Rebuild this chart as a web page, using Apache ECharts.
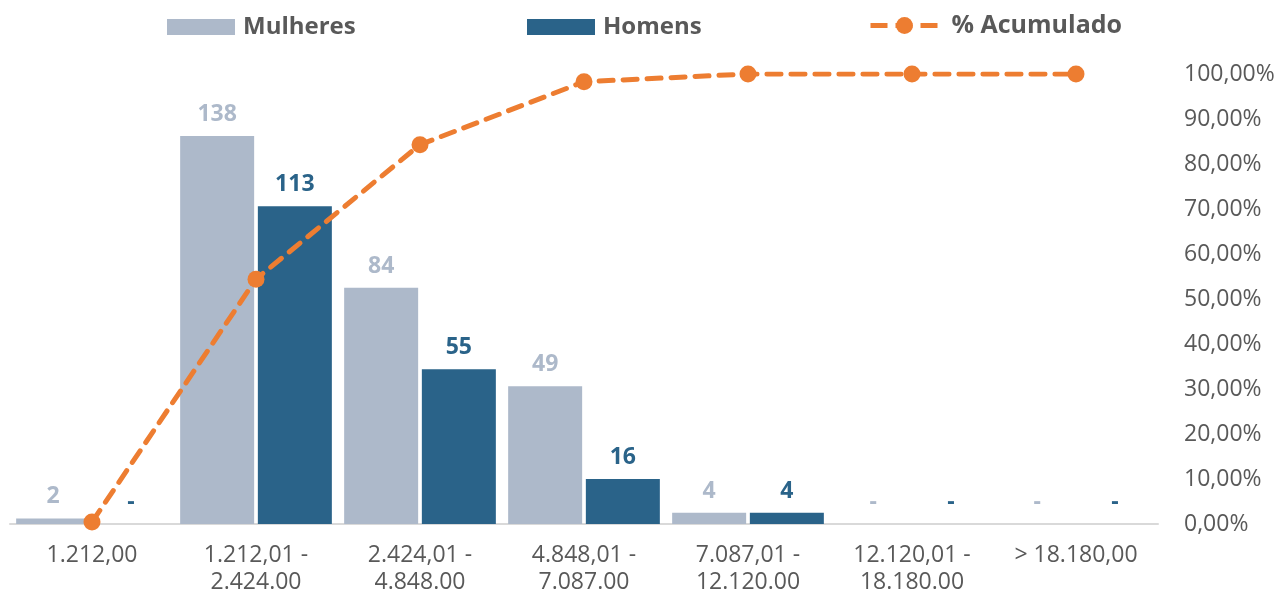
<!DOCTYPE html>
<html>
<head>
<meta charset="utf-8">
<script src="https://cdn.jsdelivr.net/npm/echarts@6/dist/echarts.min.js"></script>
<style>
  html, body { margin: 0; padding: 0; background: #fff; }
  #chart { width: 1280px; height: 594px; }
</style>
</head>
<body>
<div id="chart"></div>
<script>
// faixas salariais
var categorias = ['1.212,00', '1.212,01 -\n2.424.00', '2.424,01 -\n4.848.00', '4.848,01 -\n7.087.00',
  '7.087,01 -\n12.120.00', '12.120,01 -\n18.180.00', '> 18.180,00'];
var mulheres = [2, 138, 84, 49, 4, 0, 0];
var homens = [0, 113, 55, 16, 4, 0, 0];
var acumulado = [0.43, 54.41, 84.30, 98.28, 100, 100, 100];
var pctTicks = { min: 0, max: 100, interval: 10 };

var corMulheres = '#ADB9CA';
var corHomens = '#2A6389';
var corLaranja = '#ED7D31';
var fonte = 'Open Sans';

var myChart = echarts.init(document.getElementById('chart'));

function rotulo(cor) {
  return {
    show: true,
    position: 'top',
    distance: 10,
    color: cor,
    fontFamily: fonte,
    fontWeight: 'bold',
    fontSize: 23,
    formatter: function (p) { return p.value === 0 ? '-' : p.value; }
  };
}

var legendaBase = {
  top: 15,
  padding: 0,
  itemGap: 0,
  itemWidth: 68,
  itemHeight: 16,
  textStyle: { color: '#595959', fontFamily: fonte, fontWeight: 'bold', fontSize: 24, padding: [0, 0, 0, 3] }
};

var option = {
  animation: false,
  legend: [
    Object.assign({}, legendaBase, { left: 167, icon: 'rect', data: ['Mulheres'] }),
    Object.assign({}, legendaBase, { left: 527, icon: 'rect', data: ['Homens'] }),
    Object.assign({}, legendaBase, {
      left: 868,
      top: 13,
      itemHeight: 21,
      data: ['% Acumulado'],
      lineStyle: { width: 5, type: [17, 8], cap: 'butt' },
      textStyle: { color: '#595959', fontFamily: fonte, fontWeight: 'bold', fontSize: 25, padding: [0, 0, 0, 8] }
    })
  ],
  grid: {
    left: 10,
    right: 122,
    top: 74,
    bottom: 70,
    outerBoundsMode: 'none',
    containLabel: false
  },
  xAxis: {
    type: 'category',
    data: categorias,
    axisLine: { show: true, lineStyle: { color: '#D9D9D9', width: 2 } },
    axisTick: { show: false },
    axisLabel: {
      interval: 0,
      margin: 18,
      color: '#595959',
      fontFamily: fonte,
      fontSize: 23,
      lineHeight: 27
    }
  },
  yAxis: [
    {
      type: 'value',
      show: false,
      min: 0,
      max: 160
    },
    {
      type: 'value',
      position: 'right',
      min: pctTicks.min,
      max: pctTicks.max,
      interval: pctTicks.interval,
      splitLine: { show: false },
      axisLine: { show: false },
      axisTick: { show: false },
      axisLabel: {
        margin: 26,
        align: 'left',
        color: '#595959',
        fontFamily: fonte,
        fontSize: 23,
        formatter: function (v) { return v.toFixed(2).replace('.', ',') + '%'; }
      }
    }
  ],
  series: [
    {
      name: 'Mulheres',
      type: 'bar',
      data: mulheres,
      barWidth: 74,
      barGap: '5%',
      itemStyle: { color: corMulheres },
      label: rotulo(corMulheres)
    },
    {
      name: 'Homens',
      type: 'bar',
      data: homens,
      barWidth: 74,
      barGap: '5%',
      itemStyle: { color: corHomens },
      label: rotulo(corHomens)
    },
    {
      name: '% Acumulado',
      type: 'line',
      yAxisIndex: 1,
      data: acumulado,
      symbol: 'circle',
      symbolSize: 17,
      z: 5,
      itemStyle: { color: corLaranja },
      lineStyle: { color: corLaranja, width: 5, type: [14, 10], cap: 'round' }
    }
  ]
};

myChart.setOption(option);
window.onresize = myChart.resize;
</script>
</body>
</html>
